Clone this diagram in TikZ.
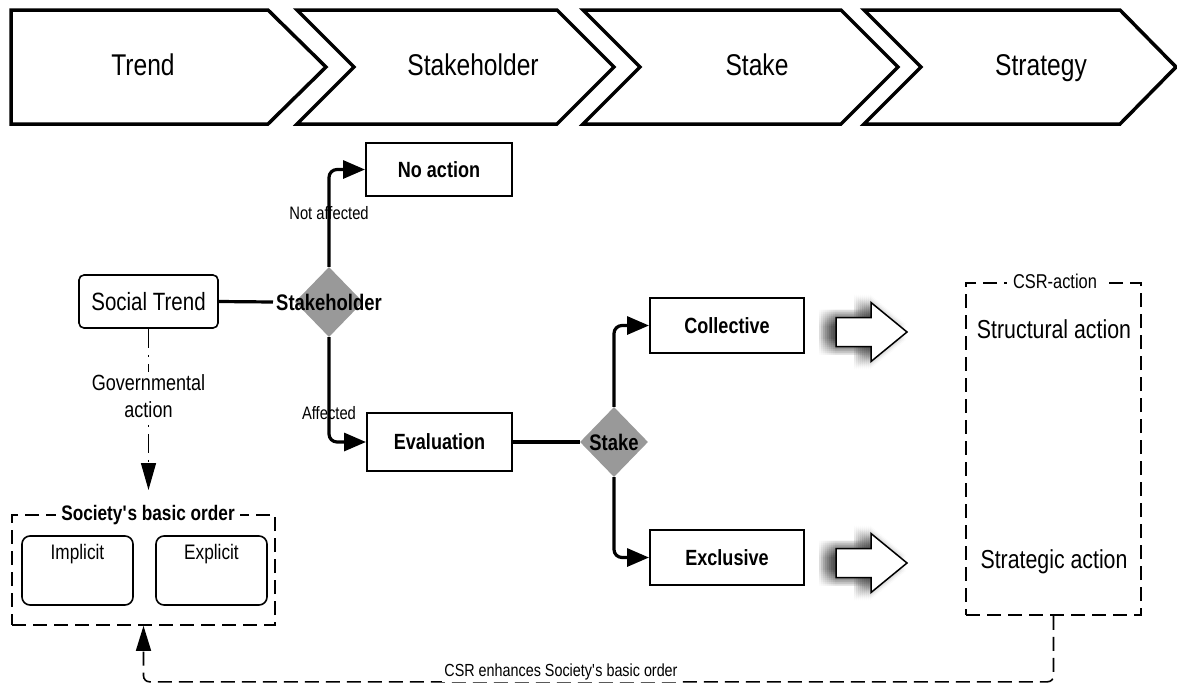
\documentclass[tikz,border=0pt]{standalone}
\usepackage{fontspec}
\setmainfont{Liberation Sans}[FakeStretch=0.82]
\usepackage{tikz}
\usetikzlibrary{arrows.meta,shapes.geometric}
\definecolor{decgray}{RGB}{153,153,153}

\begin{document}
\begin{tikzpicture}[x=1pt,y=-1pt,
        chevron/.style={line width=3.5pt, line join=miter},
        phase/.style={font=\fontsize{30}{36}\selectfont, text height=22pt, text depth=6pt},
        box/.style={draw, line width=2pt, font=\bfseries\fontsize{22}{26}\selectfont},
        rbox/.style={draw, rounded corners=8pt, line width=1.6pt},
        decision/.style={diamond, fill=decgray, minimum width=68pt, minimum height=70pt, inner sep=0pt},
        dectext/.style={font=\bfseries\fontsize{22.5}{26}\selectfont, inner sep=3pt},
        conn/.style={line width=3.2pt, rounded corners=8pt, -{Triangle[length=22pt,width=18pt]}},
        dashbox/.style={draw, line width=1.6pt, dash pattern=on 14pt off 7pt},
        small/.style={font=\fontsize{18}{21}\selectfont},
        mid/.style={font=\fontsize{26}{30}\selectfont}]
        \useasboundingbox (0,0) rectangle (1177,683);

        % phases
        \draw[chevron] (11,10) -- (268,10) -- (326,67) -- (268,124) -- (11,124) -- cycle;
        \node[phase] (trend) at (143,67) {Trend};
        \draw[chevron] (297,10) -- (557,10) -- (614,67) -- (557,124) -- (297,124) -- (354,67) -- cycle;
        \node[phase] (stakeholderphase) at (473,67) {Stakeholder};
        \draw[chevron] (583,10) -- (841,10) -- (898,67) -- (841,124) -- (583,124) -- (640,67) -- cycle;
        \node[phase] (stakephase) at (757,67) {Stake};
        \draw[chevron] (864,10) -- (1120,10) -- (1176,67) -- (1120,124) -- (864,124) -- (921,67) -- cycle;
        \node[phase] (strategyphase) at (1041,67) {Strategy};

        % nodes
        \node[rbox, rounded corners=5pt, minimum width=139pt, minimum height=53pt, font=\fontsize{25}{30}\selectfont] (social) at (148.5,301.5) {Social Trend};
        \node[decision] (stakeholder) at (329,302) {};
        \node[dectext] (stakeholdertext) at (stakeholder) {Stakeholder};
        \node[box, minimum width=146pt, minimum height=53pt] (noaction) at (439,169.5) {No action};
        \node[box, minimum width=145pt, minimum height=58pt] (evaluation) at (439.5,442) {Evaluation};
        \node[decision] (stake) at (614,442) {};
        \node[dectext] (staketext) at (stake) {Stake};
        \node[box, minimum width=154pt, minimum height=55pt] (collective) at (727,325.5) {Collective};
        \node[box, minimum width=154pt, minimum height=55pt] (exclusive) at (727,557.5) {Exclusive};

        \node[dashbox, minimum width=263pt, minimum height=110pt] (order) at (143.5,570) {};
        \node[fill=white, inner ysep=2pt, inner xsep=5pt, font=\bfseries\fontsize{21}{25}\selectfont] (ordertitle) at (148,515) {Society\textquotesingle s basic order};
        \node[rbox, minimum width=111pt, minimum height=69pt, label={[anchor=north, yshift=-6pt, font=\fontsize{21}{25}\selectfont]north:Implicit}] (implicit) at (77.5,570.5) {};
        \node[rbox, minimum width=111pt, minimum height=69pt, label={[anchor=north, yshift=-6pt, font=\fontsize{21}{25}\selectfont]north:Explicit}] (explicit) at (211.5,570.5) {};

        \node[dashbox, minimum width=175pt, minimum height=332pt] (csr) at (1053.5,449) {};
        \node[fill=white, inner ysep=2pt, inner xsep=6pt, font=\fontsize{20}{24}\selectfont] (csrtitle) at (1055,281) {CSR-action};
        \node[font=\fontsize{26}{30}\selectfont] (structural) at (1054,329) {Structural action};
        \node[font=\fontsize{26}{30}\selectfont] (strategic) at (1054,562) {Strategic action};
        \coordinate (govend) at (148.5,490);

        % block arrows
        \foreach \ya in {332,563} {
            \foreach \dx in {-17,-15,...,-1} \foreach \dy in {-8,-6,...,8}
                \fill[black, opacity=0.015] (836+\dx,\ya+\dy) ++(0,-14.5) -- ++(35,0) -- ++(0,-15) -- ++(36,29.5) -- ++(-36,29.5) -- ++(0,-15) -- ++(-35,0) -- cycle;
            \draw[line width=1.5pt, fill=white] (836,\ya) ++(0,-14.5) -- ++(35,0) -- ++(0,-15) -- ++(36,29.5) -- ++(-36,29.5) -- ++(0,-15) -- ++(-35,0) -- cycle;
        }

        % connectors
        \draw[line width=3.2pt] (social.east) -- (stakeholdertext.west);
        \draw[conn] (stakeholder.north) |- node[pos=0.274, small] (notaffected) {Not affected} (noaction.west);
        \draw[conn] (stakeholder.south) |- node[pos=0.362, small] (affected) {Affected} (evaluation.west);
        \draw[line width=3.2pt] (evaluation.east) -- (stake.west);
        \draw[conn] (stake.north) |- (collective.west);
        \draw[conn] (stake.south) |- (exclusive.west);
        \draw[line width=1.4pt, dash pattern=on 19pt off 7pt on 2pt off 7pt, -{Triangle[length=27pt,width=15pt]}] (social.south) -- node[pos=0.42, fill=white, align=center, font=\fontsize{22}{27}\selectfont] (govlabel) {Governmental\\action} (govend);
        \draw[line width=1.6pt, dash pattern=on 14pt off 7pt, rounded corners=6pt, -{Triangle[length=25pt,width=15pt]}] (csr.south) -- ++(0,66) -| (order.south);
        \node[fill=white, inner sep=2pt, font=\fontsize{17.5}{21}\selectfont] (csrlabel) at (561,672) {CSR enhances Society\textquotesingle s basic order};
    \end{tikzpicture}
\end{document}
